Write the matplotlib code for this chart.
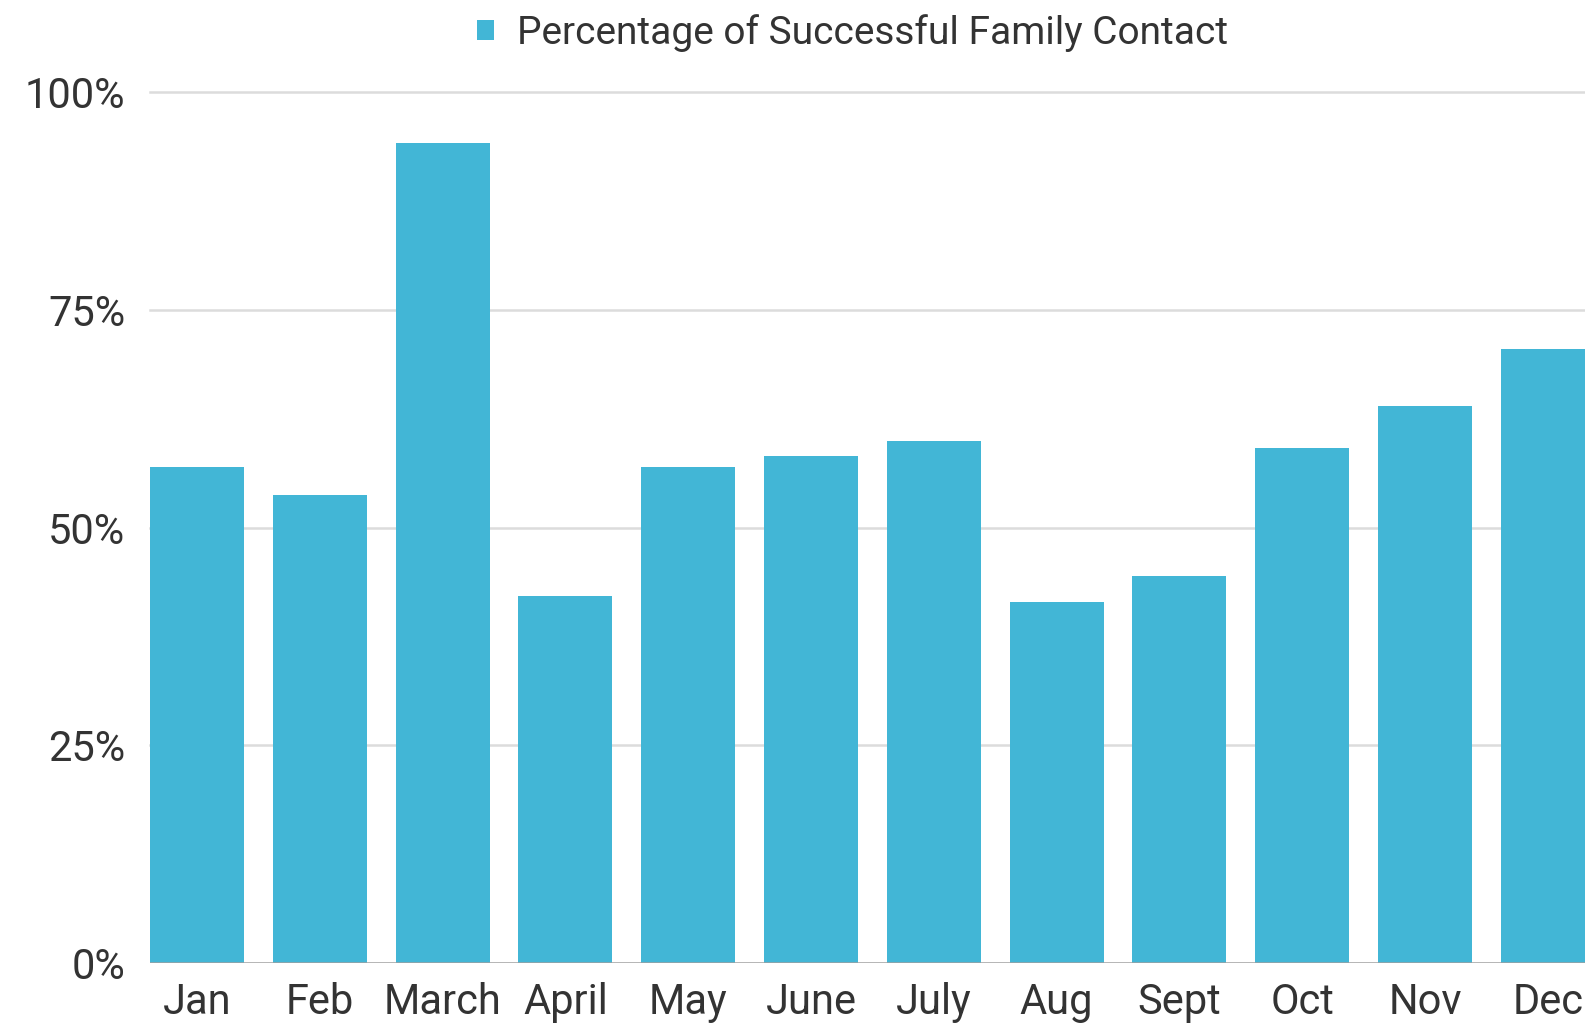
import matplotlib.pyplot as plt
import matplotlib.transforms as mtransforms

plt.rcParams["font.family"] = ["Roboto", "DejaVu Sans"]

months = ["Jan", "Feb", "March", "April", "May", "June", "July",
          "Aug", "Sept", "Oct", "Nov", "Dec"]
contact_pct = [57.0, 53.7, 94.2, 42.1, 57.0, 58.2, 59.9, 41.5, 44.4, 59.1, 64.0, 70.5]
yticks = [0, 25, 50, 75, 100]
series_name = "Percentage of Successful Family Contact"

bar_color = "#42b6d6"
text_color = "#333333"

fig = plt.figure(figsize=(15.85, 10.24), dpi=100)
# axes runs off the right edge, the Dec bar is clipped in the original
ax = fig.add_axes([150 / 1585, 61 / 1024, 1 - 150 / 1585, (963 - 92) / 1024])

width = 0.765
x = range(len(months))
ax.bar(x, contact_pct, width=width, color=bar_color, label=series_name, zorder=2)

ax.set_xlim(-width / 2, -width / 2 + (1585 - 150) / 122.8)
ax.set_ylim(0, 100)
ax.set_yticks(yticks)
ax.set_yticklabels([f"{t}%" for t in yticks], va="center_baseline")
ax.set_xticks(list(x))
ax.set_xticklabels(months)

# labels sit a touch above their gridlines in the original
shift = mtransforms.ScaledTranslation(0, 7 / 100, fig.dpi_scale_trans)
for lbl in ax.get_yticklabels():
    lbl.set_transform(lbl.get_transform() + shift)

for t in yticks[1:]:
    ax.axhline(t, color="#dcdcdc", lw=1.8, zorder=1, clip_on=False)
ax.axhline(0, color="#a0a0a0", lw=1.8, zorder=3)

for s in ax.spines.values():
    s.set_visible(False)
ax.tick_params(axis="both", length=0, labelsize=30, colors=text_color)
ax.tick_params(axis="y", pad=18)
ax.tick_params(axis="x", pad=14)

fig.legend(loc="center", bbox_to_anchor=(0.538, 0.968), frameon=False,
           fontsize=28, handlelength=0.42, handleheight=0.42,
           handletextpad=0.6, labelcolor=text_color)

fig.savefig("out.png", dpi=100)
